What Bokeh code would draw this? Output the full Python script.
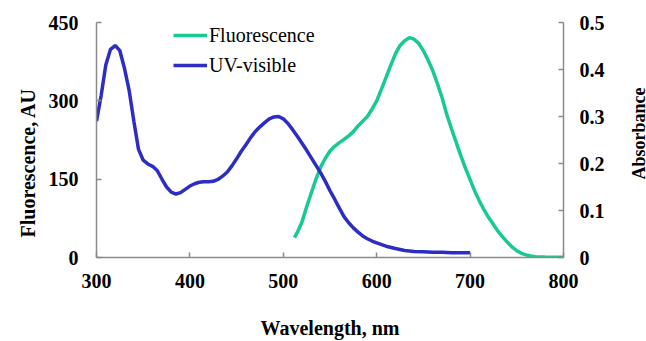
import math
from bokeh.plotting import figure
from bokeh.layouts import row
from bokeh.models import Range1d, LinearAxis, FixedTicker, Legend, LegendItem, Title, Label
from bokeh.embed import file_html
from bokeh.resources import INLINE

# Fluorescence (left axis, AU)
fl_wavelength = [512, 515, 520, 525, 530, 535, 540, 545, 550, 555, 560, 565, 570, 575,
                 580, 585, 590, 595, 600, 605, 610, 615, 620, 625, 630, 635, 640, 645,
                 650, 655, 660, 665, 670, 675, 680, 685, 690, 695, 700, 705, 710, 715,
                 720, 725, 730, 735, 740, 745, 750, 755, 760, 765, 770, 780, 790, 800]
fl_values = [38, 48, 68, 97, 124, 150, 173, 190, 204, 213, 220, 226, 233, 241,
             252, 261, 270, 284, 300, 322, 345, 368, 390, 406, 415, 421, 418, 410,
             396, 378, 358, 333, 306, 274, 247, 221, 195, 171, 149, 127, 108, 91,
             76, 63, 50, 39, 29, 20, 13, 8, 5, 3, 1.5, 0.8, 0.5, 0.5]

# UV-visible (right axis, absorbance)
uv_wavelength = [300, 305, 310, 315, 320, 325, 330, 335, 340, 345, 350, 355, 360, 365,
                 370, 375, 380, 385, 390, 395, 400, 405, 410, 415, 420, 425, 430, 435,
                 440, 445, 450, 455, 460, 465, 470, 475, 480, 485, 490, 495, 500, 505,
                 510, 515, 520, 525, 530, 535, 540, 545, 550, 555, 560, 565, 570, 575,
                 580, 585, 590, 595, 600, 610, 620, 630, 640, 650, 660, 670, 680, 690, 700]
uv_values = [0.29, 0.345, 0.41, 0.443, 0.451, 0.44, 0.402, 0.355, 0.29, 0.23, 0.207, 0.199,
             0.194, 0.185, 0.167, 0.150, 0.139, 0.135, 0.138, 0.145, 0.152, 0.157, 0.160,
             0.161, 0.161, 0.162, 0.166, 0.173, 0.182, 0.195, 0.210, 0.226, 0.240, 0.255,
             0.268, 0.278, 0.287, 0.295, 0.299, 0.300, 0.295, 0.285, 0.272, 0.258, 0.243,
             0.228, 0.212, 0.196, 0.180, 0.162, 0.142, 0.124, 0.105, 0.087, 0.074, 0.063,
             0.054, 0.046, 0.040, 0.035, 0.031, 0.024, 0.019, 0.015, 0.013, 0.012, 0.011,
             0.011, 0.010, 0.010, 0.010]

x_ticks = [300, 400, 500, 600, 700, 800]
left_ticks = [0, 150, 300, 450]
right_ticks = [0, 0.1, 0.2, 0.3, 0.4, 0.5]
right_tick_labels = {0: "0", 0.1: "0.1", 0.2: "0.2", 0.3: "0.3", 0.4: "0.4", 0.5: "0.5"}

x_title = "Wavelength, nm"
left_title = "Fluorescence, AU"
right_title = "Absorbance"
series_names = ["Fluorescence", "UV-visible"]

GREEN = "#17C994"
BLUE = "#2D2DC4"
AXIS = "#8a8a8a"
FONT = "Liberation Serif"

p = figure(width=610, height=341, frame_width=467, frame_height=235,
           output_backend="svg", toolbar_location=None,
           x_range=Range1d(300, 800), y_range=Range1d(0, 450),
           min_border_left=96, min_border_right=47, min_border_top=22, min_border_bottom=84)
p.outline_line_color = None
p.grid.visible = False
p.background_fill_color = "white"
p.border_fill_color = "white"
p.extra_y_ranges = {"abs": Range1d(0, 0.5)}

fl = p.line(fl_wavelength, fl_values, line_color=GREEN, line_width=3.5)
uv = p.line(uv_wavelength, uv_values, line_color=BLUE, line_width=3.5, y_range_name="abs")

right = LinearAxis(y_range_name="abs")
p.add_layout(right, "right")

def style(ax):
    ax.axis_line_color = AXIS
    ax.major_tick_line_color = AXIS
    ax.axis_line_width = 1.5
    ax.major_tick_line_width = 1.5
    ax.major_tick_in = 5
    ax.major_tick_out = 0
    ax.minor_tick_line_color = None
    ax.major_label_text_font = FONT
    ax.major_label_text_font_style = "bold"
    ax.major_label_text_font_size = "20px"
    ax.major_label_text_color = "black"
    ax.axis_label_text_font = FONT
    ax.axis_label_text_font_style = "bold"
    ax.axis_label_text_font_size = "20px"
    ax.axis_label_text_color = "black"

xa = p.xaxis[0]
ya = p.yaxis[0]
for ax in (xa, ya, right):
    style(ax)

xa.ticker = FixedTicker(ticks=x_ticks)
xa.major_label_standoff = 16
xa.axis_label = x_title
xa.axis_label_standoff = 26

ya.ticker = FixedTicker(ticks=left_ticks)
ya.major_label_standoff = 18

right.ticker = FixedTicker(ticks=right_ticks)
right.major_label_overrides = right_tick_labels
right.major_label_standoff = 16

left_t = Title(text=left_title, align="left", offset=20, standoff=14,
               text_font=FONT, text_font_style="bold", text_font_size="20px",
               text_color="black")
p.add_layout(left_t, "left")

legend = Legend(items=[LegendItem(label=series_names[0], renderers=[fl]),
                       LegendItem(label=series_names[1], renderers=[uv])],
                location=(77, 177))
legend.padding = 0
legend.margin = 0
legend.spacing = 0
legend.border_line_color = None
legend.background_fill_alpha = 0
legend.glyph_width = 34
legend.glyph_height = 30
legend.label_height = 30
legend.label_standoff = 2
legend.label_text_font = FONT
legend.label_text_font_size = "20px"
legend.label_text_color = "black"
p.add_layout(legend, "center")

# narrow strip on the right carrying the right-hand axis title
p2 = figure(width=36, height=341, output_backend="svg", toolbar_location=None,
            x_range=Range1d(0, 36), y_range=Range1d(0, 341),
            x_axis_location=None, y_axis_location=None,
            min_border_left=0, min_border_right=0, min_border_top=0, min_border_bottom=0)
p2.outline_line_color = None
p2.background_fill_color = "white"
p2.border_fill_color = "white"
for g in p2.grid:
    g.visible = False
p2.add_layout(Label(x=28, y=180, text=right_title, angle=math.pi / 2,
                    text_font=FONT, text_font_style="bold", text_font_size="18px",
                    text_color="black", text_align="center", text_baseline="middle"))

layout = row(p, p2, spacing=0)
open("out.html", "w").write(file_html(layout, INLINE))
